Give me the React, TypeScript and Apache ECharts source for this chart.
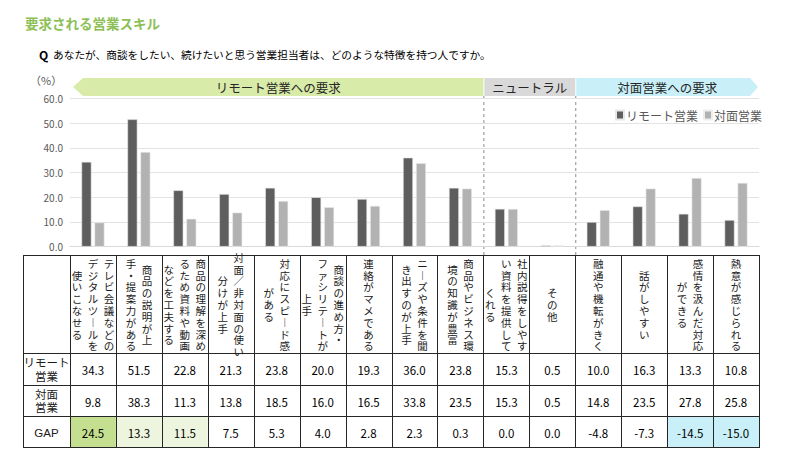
import React, { useEffect, useRef } from "react";
import * as echarts from "echarts";

const categories = [
  ["テレビ会議などの", "デジタルツ︱ルを", "使いこなせる"],
  ["商品の説明が上", "手・提案力がある"],
  ["商品の理解を深め", "るため資料や動画", "などを工夫する"],
  ["対面／非対面の使い", "分けが上手"],
  ["対応にスピ︱ド感", "がある"],
  ["商談の進め方・", "ファシリテ︱トが", "上手"],
  ["連絡がマメである"],
  ["ニ︱ズや条件を聞", "き出すのが上手"],
  ["商品やビジネス環", "境の知識が豊富"],
  ["社内説得をしやす", "い資料を提供して", "くれる"],
  ["その他"],
  ["融通や機転がきく"],
  ["話がしやすい"],
  ["感情を汲んだ対応", "ができる"],
  ["熱意が感じられる"],
];
const remote = [34.3, 51.5, 22.8, 21.3, 23.8, 20.0, 19.3, 36.0, 23.8, 15.3, 0.5, 10.0, 16.3, 13.3, 10.8];
const faceToFace = [9.8, 38.3, 11.3, 13.8, 18.5, 16.0, 16.5, 33.8, 23.5, 15.3, 0.5, 14.8, 23.5, 27.8, 25.8];
const gap = [24.5, 13.3, 11.5, 7.5, 5.3, 4.0, 2.8, 2.3, 0.3, 0.0, 0.0, -4.8, -7.3, -14.5, -15.0];
const gapFill: (string | null)[] = [
  "#c3df8f", "#eef5df", "#eef5df", null, null, null, null, null, null, null, null, null, null, "#c9f0f8", "#c9f0f8",
];
const seriesNames = ["リモート営業", "対面営業"];
const rowLabels = [["リモート", "営業"], ["対面", "営業"], ["GAP"]];
const bands = [
  { label: "リモート営業への要求", from: 0, to: 9, color: "#d9eba8" },
  { label: "ニュートラル", from: 9, to: 11, color: "#d9d9d9" },
  { label: "対面営業への要求", from: 11, to: 15, color: "#c9f0f8" },
];
const yTicks = { min: 0, max: 60, interval: 10 };

const FONT = "'Noto Sans CJK JP', 'Noto Sans', sans-serif";
const CELL_FONT = "'Liberation Sans', 'Noto Sans CJK JP', sans-serif";
const W = 800;
const H = 459;
const GRID_LEFT = 70;
const GRID_RIGHT = 41;
const GRID_TOP = 98.3;
const GRID_BOTTOM_Y = 246.7;
const TABLE_LEFT = 23;
const TABLE_TOP = 255;
const ROW_Y = [353, 385, 416, 447];
const BAND_TOP = 78;
const BAND_BOTTOM = 96;
const V_FONT = 10.5;
const V_PITCH = 11.8;
const V_LINE_GAP = 16;

export default function App() {
  const ref = useRef<HTMLDivElement>(null);
  useEffect(() => {
    if (!ref.current) return;
    const chart = echarts.init(ref.current, null, { renderer: "svg" });
    const n = categories.length;
    const plotW = W - GRID_LEFT - GRID_RIGHT;
    const colW = plotW / n;
    const colX = (i: number) => GRID_LEFT + i * colW;
    const tableRight = colX(n);
    const g: any[] = [];

    // title and question
    g.push({
      type: "text", x: 25, y: 23,
      style: { text: "要求される営業スキル", fill: "#8dc056", font: `bold 13.5px ${FONT}`, verticalAlign: "middle" },
    });
    g.push({
      type: "text", x: 39, y: 54,
      style: { text: "Q", fill: "#000", font: `bold 12px ${FONT}`, verticalAlign: "middle" },
    });
    g.push({
      type: "text", x: 53, y: 54,
      style: {
        text: "あなたが、商談をしたい、続けたいと思う営業担当者は、どのような特徴を持つ人ですか。",
        fill: "#000", font: `10.7px ${FONT}`, verticalAlign: "middle",
      },
    });
    g.push({
      type: "text", x: 30, y: 80,
      style: { text: "（%）", fill: "#595959", font: `11px ${FONT}`, verticalAlign: "middle" },
    });

    // bands
    bands.forEach((b, bi) => {
      const x0 = colX(b.from) + (bi === 0 ? 3 : 1);
      const x1 = colX(b.to) - (bi === bands.length - 1 ? 1 : 0);
      const mid = (BAND_TOP + BAND_BOTTOM) / 2;
      let pts: number[][];
      if (bi === 0) {
        pts = [[x0, mid], [x0 + 10, BAND_TOP], [x1, BAND_TOP], [x1, BAND_BOTTOM], [x0 + 10, BAND_BOTTOM]];
      } else if (bi === bands.length - 1) {
        pts = [[x0, BAND_TOP], [x1 - 8, BAND_TOP], [x1, mid], [x1 - 8, BAND_BOTTOM], [x0, BAND_BOTTOM]];
      } else {
        pts = [[x0, BAND_TOP], [x1, BAND_TOP], [x1, BAND_BOTTOM], [x0, BAND_BOTTOM]];
      }
      g.push({ type: "polygon", shape: { points: pts }, style: { fill: b.color } });
      g.push({
        type: "text", x: (x0 + x1) / 2, y: mid,
        style: { text: b.label, fill: "#262626", font: `12.5px ${FONT}`, align: "center", verticalAlign: "middle" },
      });
      if (bi > 0) {
        g.push({
          type: "line", shape: { x1: colX(b.from) + 0.5, y1: BAND_BOTTOM, x2: colX(b.from) + 0.5, y2: TABLE_TOP },
          style: { stroke: "#8c8c8c", lineWidth: 1, lineDash: [3, 3] },
        });
      }
    });

    // GAP fills
    gapFill.forEach((c, i) => {
      if (!c) return;
      g.push({ type: "rect", shape: { x: colX(i), y: ROW_Y[2], width: colW, height: ROW_Y[3] - ROW_Y[2] }, style: { fill: c } });
    });

    // table lines
    const lineStyle = { stroke: "#262626", lineWidth: 1 };
    [TABLE_TOP, ...ROW_Y].forEach((y) => {
      g.push({ type: "line", shape: { x1: TABLE_LEFT, y1: y + 0.5, x2: tableRight, y2: y + 0.5 }, style: lineStyle });
    });
    g.push({ type: "line", shape: { x1: TABLE_LEFT + 0.5, y1: TABLE_TOP, x2: TABLE_LEFT + 0.5, y2: ROW_Y[3] + 1 }, style: lineStyle });
    for (let i = 0; i <= n; i++) {
      const x = Math.round(colX(i)) + 0.5;
      g.push({ type: "line", shape: { x1: x, y1: TABLE_TOP, x2: x, y2: ROW_Y[3] + 1 }, style: lineStyle });
    }

    // vertical header texts: one text per glyph, lines run right to left
    const headerMid = (TABLE_TOP + ROW_Y[0]) / 2 + 1;
    categories.forEach((lines, i) => {
      const cx = colX(i) + colW / 2;
      const m = lines.length;
      lines.forEach((ln, li) => {
        const x = cx + ((m - 1) / 2 - li) * V_LINE_GAP;
        const chars = Array.from(ln);
        const y0 = headerMid - ((chars.length - 1) / 2) * V_PITCH;
        chars.forEach((ch, k) => {
          g.push({
            type: "text", x, y: y0 + k * V_PITCH,
            style: { text: ch, fill: "#1a1a1a", font: `${V_FONT}px ${CELL_FONT}`, align: "center", verticalAlign: "middle" },
          });
        });
      });
    });

    // row labels & values
    const rows = [remote, faceToFace, gap];
    rows.forEach((vals, r) => {
      const cy = (ROW_Y[r] + ROW_Y[r + 1]) / 2 + 1;
      const lbl = rowLabels[r];
      lbl.forEach((t, k) => {
        g.push({
          type: "text", x: (TABLE_LEFT + GRID_LEFT) / 2, y: cy + (k - (lbl.length - 1) / 2) * 13.5,
          style: { text: t, fill: "#1a1a1a", font: `11.5px ${CELL_FONT}`, align: "center", verticalAlign: "middle" },
        });
      });
      vals.forEach((v, i) => {
        g.push({
          type: "text", x: colX(i) + colW / 2, y: cy,
          style: { text: v.toFixed(1), fill: "#000", font: `11.5px ${FONT}`, align: "center", verticalAlign: "middle" },
        });
      });
    });

    chart.setOption({
      animation: false,
      textStyle: { fontFamily: FONT },
      grid: { left: GRID_LEFT, right: GRID_RIGHT, top: GRID_TOP, bottom: H - GRID_BOTTOM_Y, containLabel: false },
      legend: {
        data: seriesNames, right: 33, top: 104, itemWidth: 8, itemHeight: 9, itemGap: 5,
        icon: "rect", textStyle: { fontSize: 12, color: "#595959", padding: [0, 0, 0, -3] },
      },
      xAxis: {
        type: "category", data: categories.map((c) => c.join("")),
        axisLine: { lineStyle: { color: "#d9d9d9" } }, axisTick: { show: false }, axisLabel: { show: false },
      },
      yAxis: {
        type: "value", min: yTicks.min, max: yTicks.max, interval: yTicks.interval,
        axisLine: { show: false }, axisTick: { show: false },
        axisLabel: { formatter: (v: number) => v.toFixed(1), color: "#595959", fontSize: 10, margin: 7 },
        splitLine: { lineStyle: { color: "#e3e3e3" } },
      },
      series: [
        { name: seriesNames[0], type: "bar", data: remote, barWidth: 10, barGap: "30%", itemStyle: { color: "#5e5e5e", borderColor: "#e8e8e8", borderWidth: 0.6 } },
        { name: seriesNames[1], type: "bar", data: faceToFace, barWidth: 10, itemStyle: { color: "#b2b2b2", borderColor: "#eeeeee", borderWidth: 0.6 } },
      ],
      graphic: g,
    });
    return () => chart.dispose();
  }, []);
  return <div ref={ref} style={{ width: W, height: H, position: "absolute", left: 0, top: 0 }} />;
}
